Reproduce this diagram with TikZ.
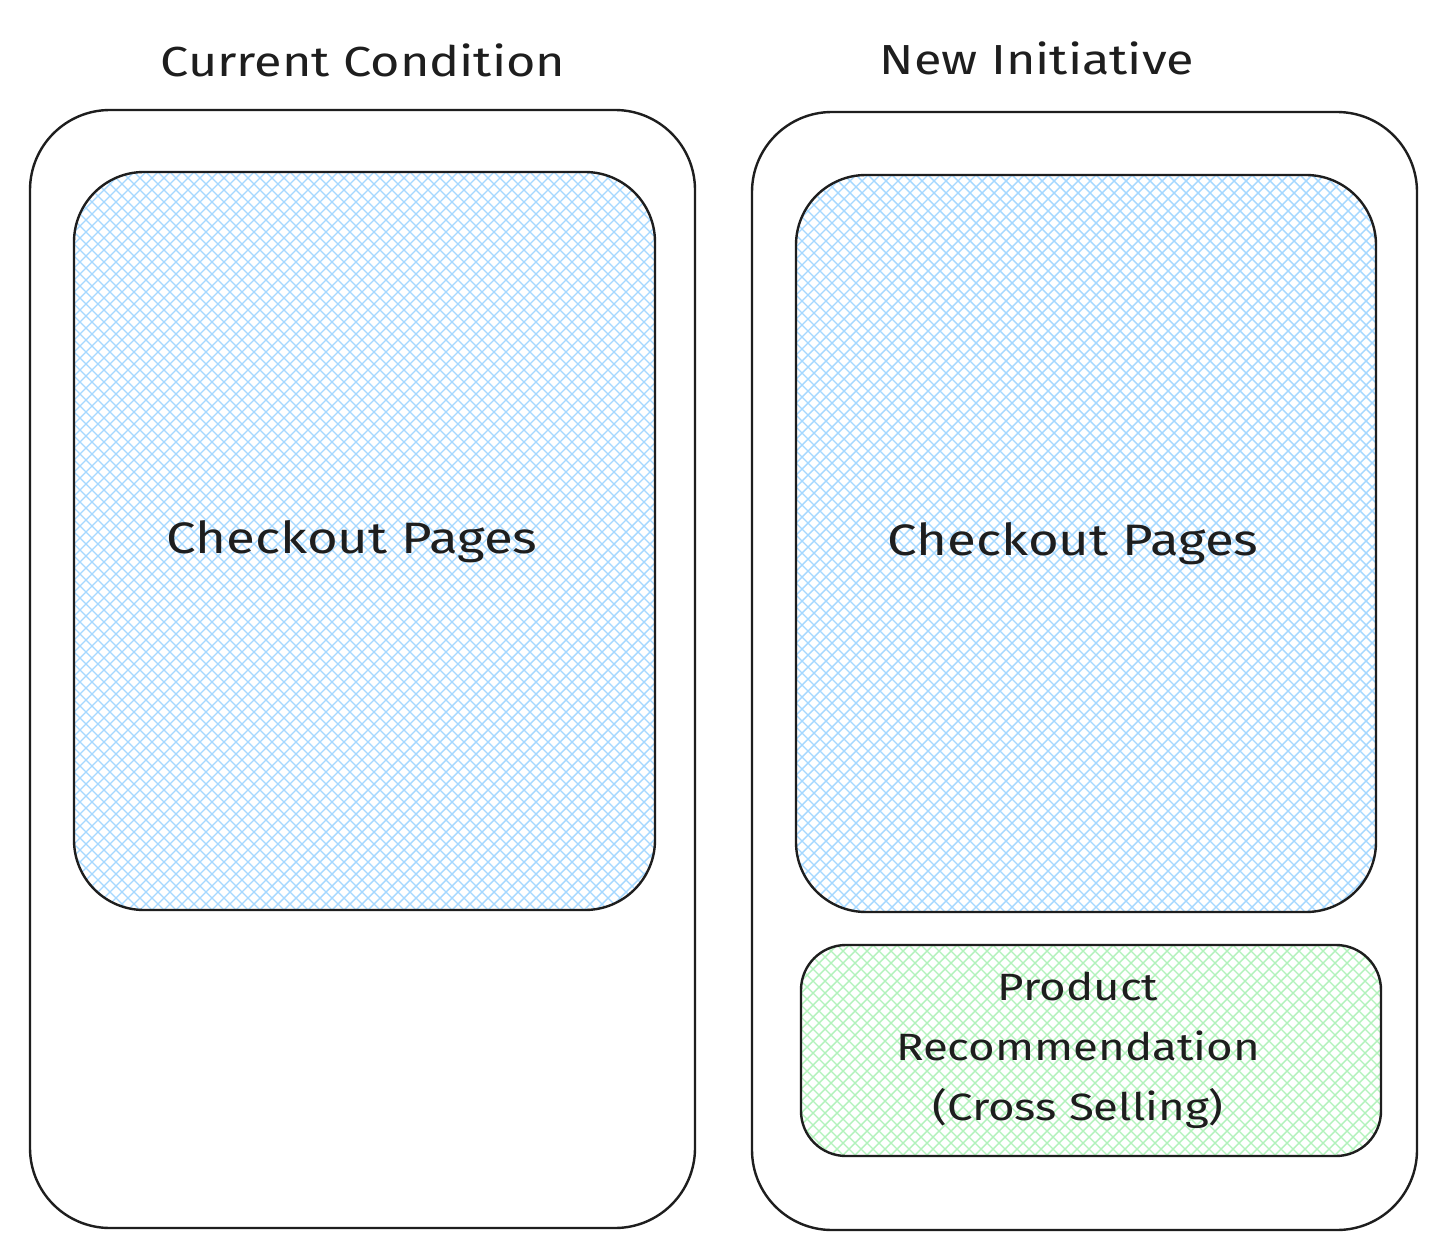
\documentclass[tikz,border=0pt]{standalone}
\usepackage{fontspec}
\setmainfont{Fira Sans}
\newfontfamily\widefont[FakeStretch=1.2]{Fira Sans}
\definecolor{ink}{HTML}{1E1E1E}
\definecolor{hblue}{HTML}{A5D8FF}
\definecolor{hgreen}{HTML}{B2F2BB}
\tikzset{
  frame/.style={draw=ink, line width=2.4pt, rounded corners=80pt, inner sep=0pt},
  bluebox/.style={draw=ink, line width=2.4pt, rounded corners=70pt, inner sep=0pt},
  greenbox/.style={draw=ink, line width=2.4pt, rounded corners=45pt, inner sep=0pt},
  hatchline/.style={line width=1.4pt},
  lbl/.style={text=ink, align=center, inner sep=0pt},
  ttl/.style={lbl, font=\widefont\fontsize{42}{60}\selectfont},
  cpl/.style={lbl, font=\widefont\fontsize{44}{60}\selectfont},
  prl/.style={lbl, font=\widefont\fontsize{38}{60}\selectfont}
}
\newcommand{\hatcharea}[6]{% x1 y1 x2 y2 radius color
  \begin{scope}
    \clip[rounded corners=#5] (#1,#2) rectangle (#3,#4);
    \foreach \c in {-900,-888,...,1500} {
      \draw[hatchline, #6] (\c+#1-#2+#2, #2) -- ++(1000,1000);
      \draw[hatchline, #6] (\c+#1+600, #2) -- ++(-1000,1000);
    }
  \end{scope}}
\begin{document}
\begin{tikzpicture}[x=1pt,y=-1pt]
\useasboundingbox (0,0) rectangle (1446,1260);
\fill[white] (0,0) rectangle (1446,1260);
\hatcharea{74}{172}{655}{910}{70pt}{hblue}
\hatcharea{796}{175}{1376}{912}{70pt}{hblue}
\hatcharea{801}{945}{1381}{1156}{45pt}{hgreen}
\node[frame, minimum width=665pt, minimum height=1118pt] (lout) at (362.5,669) {};
\node[frame, minimum width=665pt, minimum height=1118pt] (rout) at (1084.5,671) {};
\node[bluebox, minimum width=581pt, minimum height=738pt] (lin) at (364.5,541) {};
\node[bluebox, minimum width=580pt, minimum height=737pt] (rin) at (1086,543.5) {};
\node[greenbox, minimum width=580pt, minimum height=211pt] (grn) at (1091,1050.5) {};
\node[ttl] (ttl) at (363,60) {Current Condition};
\node[ttl] (ttr) at (1037,58) {New Initiative};
\node[cpl] (lcp) at (352,542) {Checkout Pages};
\node[cpl] (rcp) at (1073,544) {Checkout Pages};
\node[prl] (prd) at (1078,1050) {Product\\Recommendation\\(Cross Selling)};
\end{tikzpicture}
\end{document}
